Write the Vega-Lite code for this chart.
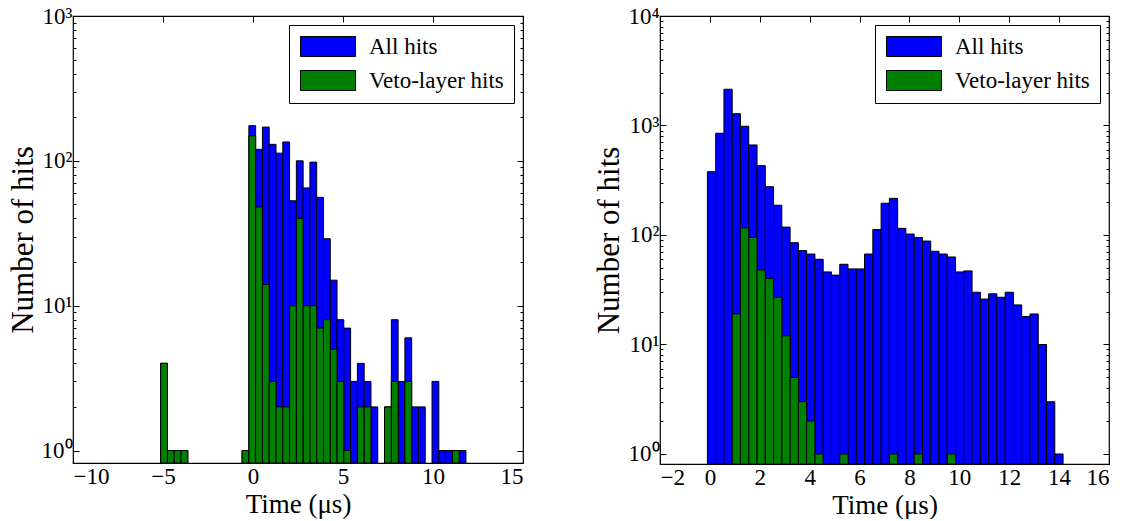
{
  "$schema": "https://vega.github.io/schema/vega-lite/v6.json",
  "background": "white",
  "padding": {"left": 6, "top": 4, "right": 5, "bottom": 0},
  "spacing": 68,
  "config": {
    "view": {"stroke": "black", "strokeWidth": 1.2},
    "font": "Liberation Serif",
    "axis": {
      "labelFont": "Liberation Serif",
      "labelFontSize": 23,
      "labelColor": "black",
      "titleFont": "Liberation Serif",
      "titleFontSize": 27,
      "titleFontWeight": "normal",
      "titleColor": "black",
      "domain": false,
      "grid": false,
      "tickColor": "black",
      "tickWidth": 1
    },
    "legend": {
      "orient": "top-right",
      "offset": 9,
      "strokeColor": "black",
      "fillColor": "white",
      "padding": 10,
      "cornerRadius": 0,
      "symbolType": "M-1,-1H4.5V1H-1Z",
      "symbolSize": 400,
      "symbolStrokeColor": "black",
      "symbolStrokeWidth": 1,
      "symbolOpacity": 1,
      "labelFont": "Liberation Serif",
      "labelFontSize": 23,
      "labelColor": "black",
      "labelOffset": 47,
      "labelLimit": 300,
      "rowPadding": 9
    }
  },
  "datasets": {
    "left": [
      {"series": "All hits", "t0": -5.130, "t1": -4.753, "n": 4},
      {"series": "All hits", "t0": -4.753, "t1": -4.376, "n": 1},
      {"series": "All hits", "t0": -4.376, "t1": -3.999, "n": 1},
      {"series": "All hits", "t0": -3.999, "t1": -3.622, "n": 1},
      {"series": "All hits", "t0": -0.607, "t1": -0.230, "n": 1},
      {"series": "All hits", "t0": -0.230, "t1": 0.147, "n": 175},
      {"series": "All hits", "t0": 0.147, "t1": 0.524, "n": 120},
      {"series": "All hits", "t0": 0.524, "t1": 0.900, "n": 171},
      {"series": "All hits", "t0": 0.900, "t1": 1.277, "n": 130},
      {"series": "All hits", "t0": 1.277, "t1": 1.654, "n": 113},
      {"series": "All hits", "t0": 1.654, "t1": 2.031, "n": 135},
      {"series": "All hits", "t0": 2.031, "t1": 2.408, "n": 53},
      {"series": "All hits", "t0": 2.408, "t1": 2.785, "n": 100},
      {"series": "All hits", "t0": 2.785, "t1": 3.162, "n": 65},
      {"series": "All hits", "t0": 3.162, "t1": 3.539, "n": 98},
      {"series": "All hits", "t0": 3.539, "t1": 3.916, "n": 56},
      {"series": "All hits", "t0": 3.916, "t1": 4.293, "n": 29},
      {"series": "All hits", "t0": 4.293, "t1": 4.669, "n": 15},
      {"series": "All hits", "t0": 4.669, "t1": 5.046, "n": 8},
      {"series": "All hits", "t0": 5.046, "t1": 5.423, "n": 7},
      {"series": "All hits", "t0": 5.423, "t1": 5.800, "n": 3},
      {"series": "All hits", "t0": 5.800, "t1": 6.177, "n": 4},
      {"series": "All hits", "t0": 6.177, "t1": 6.554, "n": 3},
      {"series": "All hits", "t0": 6.554, "t1": 6.931, "n": 2},
      {"series": "All hits", "t0": 7.308, "t1": 7.685, "n": 2},
      {"series": "All hits", "t0": 7.685, "t1": 8.062, "n": 8},
      {"series": "All hits", "t0": 8.062, "t1": 8.438, "n": 3},
      {"series": "All hits", "t0": 8.438, "t1": 8.815, "n": 6},
      {"series": "All hits", "t0": 8.815, "t1": 9.192, "n": 2},
      {"series": "All hits", "t0": 9.192, "t1": 9.569, "n": 2},
      {"series": "All hits", "t0": 9.946, "t1": 10.323, "n": 3},
      {"series": "All hits", "t0": 10.323, "t1": 10.700, "n": 1},
      {"series": "All hits", "t0": 10.700, "t1": 11.077, "n": 1},
      {"series": "All hits", "t0": 11.077, "t1": 11.454, "n": 1},
      {"series": "All hits", "t0": 11.454, "t1": 11.831, "n": 1},
      {"series": "Veto-layer hits", "t0": -5.130, "t1": -4.753, "n": 4},
      {"series": "Veto-layer hits", "t0": -4.753, "t1": -4.376, "n": 1},
      {"series": "Veto-layer hits", "t0": -4.376, "t1": -3.999, "n": 1},
      {"series": "Veto-layer hits", "t0": -3.999, "t1": -3.622, "n": 1},
      {"series": "Veto-layer hits", "t0": -0.607, "t1": -0.230, "n": 1},
      {"series": "Veto-layer hits", "t0": -0.230, "t1": 0.147, "n": 149},
      {"series": "Veto-layer hits", "t0": 0.147, "t1": 0.524, "n": 48},
      {"series": "Veto-layer hits", "t0": 0.524, "t1": 0.900, "n": 14},
      {"series": "Veto-layer hits", "t0": 0.900, "t1": 1.277, "n": 3},
      {"series": "Veto-layer hits", "t0": 1.277, "t1": 1.654, "n": 2},
      {"series": "Veto-layer hits", "t0": 1.654, "t1": 2.031, "n": 2},
      {"series": "Veto-layer hits", "t0": 2.031, "t1": 2.408, "n": 10},
      {"series": "Veto-layer hits", "t0": 2.408, "t1": 2.785, "n": 40},
      {"series": "Veto-layer hits", "t0": 2.785, "t1": 3.162, "n": 10},
      {"series": "Veto-layer hits", "t0": 3.162, "t1": 3.539, "n": 10},
      {"series": "Veto-layer hits", "t0": 3.539, "t1": 3.916, "n": 7},
      {"series": "Veto-layer hits", "t0": 3.916, "t1": 4.293, "n": 8},
      {"series": "Veto-layer hits", "t0": 4.293, "t1": 4.669, "n": 5},
      {"series": "Veto-layer hits", "t0": 4.669, "t1": 5.046, "n": 3},
      {"series": "Veto-layer hits", "t0": 5.046, "t1": 5.423, "n": 1},
      {"series": "Veto-layer hits", "t0": 5.800, "t1": 6.177, "n": 2},
      {"series": "Veto-layer hits", "t0": 6.177, "t1": 6.554, "n": 2},
      {"series": "Veto-layer hits", "t0": 7.308, "t1": 7.685, "n": 2},
      {"series": "Veto-layer hits", "t0": 7.685, "t1": 8.062, "n": 3},
      {"series": "Veto-layer hits", "t0": 8.438, "t1": 8.815, "n": 3},
      {"series": "Veto-layer hits", "t0": 11.077, "t1": 11.454, "n": 1}
    ],
    "right": [
      {"series": "All hits", "t0": -0.100, "t1": 0.232, "n": 378},
      {"series": "All hits", "t0": 0.232, "t1": 0.563, "n": 849},
      {"series": "All hits", "t0": 0.563, "t1": 0.895, "n": 2143},
      {"series": "All hits", "t0": 0.895, "t1": 1.226, "n": 1282},
      {"series": "All hits", "t0": 1.226, "t1": 1.558, "n": 984},
      {"series": "All hits", "t0": 1.558, "t1": 1.890, "n": 664},
      {"series": "All hits", "t0": 1.890, "t1": 2.221, "n": 430},
      {"series": "All hits", "t0": 2.221, "t1": 2.553, "n": 276},
      {"series": "All hits", "t0": 2.553, "t1": 2.884, "n": 187},
      {"series": "All hits", "t0": 2.884, "t1": 3.216, "n": 118},
      {"series": "All hits", "t0": 3.216, "t1": 3.548, "n": 85},
      {"series": "All hits", "t0": 3.548, "t1": 3.879, "n": 72},
      {"series": "All hits", "t0": 3.879, "t1": 4.211, "n": 67},
      {"series": "All hits", "t0": 4.211, "t1": 4.542, "n": 60},
      {"series": "All hits", "t0": 4.542, "t1": 4.874, "n": 46},
      {"series": "All hits", "t0": 4.874, "t1": 5.206, "n": 43},
      {"series": "All hits", "t0": 5.206, "t1": 5.537, "n": 54},
      {"series": "All hits", "t0": 5.537, "t1": 5.869, "n": 49},
      {"series": "All hits", "t0": 5.869, "t1": 6.200, "n": 49},
      {"series": "All hits", "t0": 6.200, "t1": 6.532, "n": 67},
      {"series": "All hits", "t0": 6.532, "t1": 6.864, "n": 112},
      {"series": "All hits", "t0": 6.864, "t1": 7.195, "n": 195},
      {"series": "All hits", "t0": 7.195, "t1": 7.527, "n": 216},
      {"series": "All hits", "t0": 7.527, "t1": 7.858, "n": 115},
      {"series": "All hits", "t0": 7.858, "t1": 8.190, "n": 102},
      {"series": "All hits", "t0": 8.190, "t1": 8.522, "n": 95},
      {"series": "All hits", "t0": 8.522, "t1": 8.853, "n": 88},
      {"series": "All hits", "t0": 8.853, "t1": 9.185, "n": 71},
      {"series": "All hits", "t0": 9.185, "t1": 9.516, "n": 67},
      {"series": "All hits", "t0": 9.516, "t1": 9.848, "n": 63},
      {"series": "All hits", "t0": 9.848, "t1": 10.180, "n": 46},
      {"series": "All hits", "t0": 10.180, "t1": 10.511, "n": 47},
      {"series": "All hits", "t0": 10.511, "t1": 10.843, "n": 30},
      {"series": "All hits", "t0": 10.843, "t1": 11.174, "n": 26},
      {"series": "All hits", "t0": 11.174, "t1": 11.506, "n": 29},
      {"series": "All hits", "t0": 11.506, "t1": 11.838, "n": 27},
      {"series": "All hits", "t0": 11.838, "t1": 12.169, "n": 30},
      {"series": "All hits", "t0": 12.169, "t1": 12.501, "n": 23},
      {"series": "All hits", "t0": 12.501, "t1": 12.832, "n": 18},
      {"series": "All hits", "t0": 12.832, "t1": 13.164, "n": 19},
      {"series": "All hits", "t0": 13.164, "t1": 13.496, "n": 10},
      {"series": "All hits", "t0": 13.496, "t1": 13.827, "n": 3},
      {"series": "All hits", "t0": 13.827, "t1": 14.159, "n": 1},
      {"series": "Veto-layer hits", "t0": 0.895, "t1": 1.226, "n": 19},
      {"series": "Veto-layer hits", "t0": 1.226, "t1": 1.558, "n": 116},
      {"series": "Veto-layer hits", "t0": 1.558, "t1": 1.890, "n": 95},
      {"series": "Veto-layer hits", "t0": 1.890, "t1": 2.221, "n": 48},
      {"series": "Veto-layer hits", "t0": 2.221, "t1": 2.553, "n": 40},
      {"series": "Veto-layer hits", "t0": 2.553, "t1": 2.884, "n": 27},
      {"series": "Veto-layer hits", "t0": 2.884, "t1": 3.216, "n": 12},
      {"series": "Veto-layer hits", "t0": 3.216, "t1": 3.548, "n": 5},
      {"series": "Veto-layer hits", "t0": 3.548, "t1": 3.879, "n": 3},
      {"series": "Veto-layer hits", "t0": 3.879, "t1": 4.211, "n": 2},
      {"series": "Veto-layer hits", "t0": 4.211, "t1": 4.542, "n": 1},
      {"series": "Veto-layer hits", "t0": 5.206, "t1": 5.537, "n": 1},
      {"series": "Veto-layer hits", "t0": 7.195, "t1": 7.527, "n": 1},
      {"series": "Veto-layer hits", "t0": 8.190, "t1": 8.522, "n": 1},
      {"series": "Veto-layer hits", "t0": 9.516, "t1": 9.848, "n": 1}
    ]
  },
  "resolve": {"scale": {"color": "independent"}, "legend": {"color": "independent"}},
  "hconcat": [
    {
      "width": 450,
      "height": 447,
      "data": {"name": "left"},
      "resolve": {"axis": {"x": "independent", "y": "independent"}},
      "layer": [
        {
          "mark": {"type": "bar", "stroke": "black", "strokeWidth": 1, "opacity": 1},
          "encoding": {
            "x": {"field": "t0", "type": "quantitative",
                  "scale": {"domain": [-10, 15], "nice": false, "zero": false},
                  "axis": {"orient": "bottom", "values": [-10, -5, 0, 5, 10, 15], "title": "Time (μs)", "tickSize": -6, "labelPadding": 8, "titlePadding": 3}},
            "x2": {"field": "t1"},
            "y": {"field": "n", "type": "quantitative", "stack": null,
                  "scale": {"type": "log", "domain": [0.82, 1000], "nice": false},
                  "axis": {"orient": "left", "values": [1, 10, 100, 1000], "title": "Number of hits", "titleFontSize": 31, "tickSize": -6, "labelPadding": 7, "titlePadding": 2,
                           "labelExpr": "'10' + ['⁰','¹','²','³','⁴'][round(log(datum.value)/LN10)]"}},
            "y2": {"datum": 0.82},
            "color": {"field": "series", "type": "nominal",
                      "scale": {"domain": ["All hits", "Veto-layer hits"], "range": ["#0000ff", "#008000"]},
                      "legend": {"title": null}}
          }
        },
        {
          "mark": {"type": "point", "opacity": 0},
          "encoding": {
            "x": {"field": "t0", "type": "quantitative", "scale": {"domain": [-10, 15], "nice": false, "zero": false},
                  "axis": {"orient": "top", "values": [-10, -5, 0, 5, 10, 15], "labels": false, "title": null, "tickSize": -6}},
            "y": {"field": "n", "type": "quantitative", "scale": {"type": "log", "domain": [0.82, 1000], "nice": false},
                  "axis": {"orient": "right", "values": [1, 10, 100, 1000], "labels": false, "title": null, "tickSize": -6}}
          }
        },
        {
          "mark": {"type": "point", "opacity": 0},
          "encoding": {
            "x": {"field": "t0", "type": "quantitative", "scale": {"domain": [-10, 15], "nice": false, "zero": false}, "axis": null},
            "y": {"field": "n", "type": "quantitative", "scale": {"type": "log", "domain": [0.82, 1000], "nice": false},
                  "axis": {"orient": "left", "values": [2, 3, 4, 5, 6, 7, 8, 9, 20, 30, 40, 50, 60, 70, 80, 90, 200, 300, 400, 500, 600, 700, 800, 900], "labels": false, "title": null, "tickSize": -3}}
          }
        },
        {
          "mark": {"type": "point", "opacity": 0},
          "encoding": {
            "x": {"field": "t0", "type": "quantitative", "scale": {"domain": [-10, 15], "nice": false, "zero": false}, "axis": null},
            "y": {"field": "n", "type": "quantitative", "scale": {"type": "log", "domain": [0.82, 1000], "nice": false},
                  "axis": {"orient": "right", "values": [2, 3, 4, 5, 6, 7, 8, 9, 20, 30, 40, 50, 60, 70, 80, 90, 200, 300, 400, 500, 600, 700, 800, 900], "labels": false, "title": null, "tickSize": -3}}
          }
        }
      ]
    },
    {
      "width": 449,
      "height": 448,
      "data": {"name": "right"},
      "resolve": {"axis": {"x": "independent", "y": "independent"}},
      "layer": [
        {
          "mark": {"type": "bar", "stroke": "black", "strokeWidth": 1, "opacity": 1},
          "encoding": {
            "x": {"field": "t0", "type": "quantitative",
                  "scale": {"domain": [-2, 16], "nice": false, "zero": false},
                  "axis": {"orient": "bottom", "values": [-2, 0, 2, 4, 6, 8, 10, 12, 14, 16], "title": "Time (μs)", "tickSize": -6, "labelPadding": 8, "titlePadding": 3}},
            "x2": {"field": "t1"},
            "y": {"field": "n", "type": "quantitative", "stack": null,
                  "scale": {"type": "log", "domain": [0.81, 10000], "nice": false},
                  "axis": {"orient": "left", "values": [1, 10, 100, 1000, 10000], "title": "Number of hits", "titleFontSize": 31, "tickSize": -6, "labelPadding": 7, "titlePadding": 2,
                           "labelExpr": "'10' + ['⁰','¹','²','³','⁴'][round(log(datum.value)/LN10)]"}},
            "y2": {"datum": 0.81},
            "color": {"field": "series", "type": "nominal",
                      "scale": {"domain": ["All hits", "Veto-layer hits"], "range": ["#0000ff", "#008000"]},
                      "legend": {"title": null}}
          }
        },
        {
          "mark": {"type": "point", "opacity": 0},
          "encoding": {
            "x": {"field": "t0", "type": "quantitative", "scale": {"domain": [-2, 16], "nice": false, "zero": false},
                  "axis": {"orient": "top", "values": [-2, 0, 2, 4, 6, 8, 10, 12, 14, 16], "labels": false, "title": null, "tickSize": -6}},
            "y": {"field": "n", "type": "quantitative", "scale": {"type": "log", "domain": [0.81, 10000], "nice": false},
                  "axis": {"orient": "right", "values": [1, 10, 100, 1000, 10000], "labels": false, "title": null, "tickSize": -6}}
          }
        },
        {
          "mark": {"type": "point", "opacity": 0},
          "encoding": {
            "x": {"field": "t0", "type": "quantitative", "scale": {"domain": [-2, 16], "nice": false, "zero": false}, "axis": null},
            "y": {"field": "n", "type": "quantitative", "scale": {"type": "log", "domain": [0.81, 10000], "nice": false},
                  "axis": {"orient": "left", "values": [2, 3, 4, 5, 6, 7, 8, 9, 20, 30, 40, 50, 60, 70, 80, 90, 200, 300, 400, 500, 600, 700, 800, 900, 2000, 3000, 4000, 5000, 6000, 7000, 8000, 9000], "labels": false, "title": null, "tickSize": -3}}
          }
        },
        {
          "mark": {"type": "point", "opacity": 0},
          "encoding": {
            "x": {"field": "t0", "type": "quantitative", "scale": {"domain": [-2, 16], "nice": false, "zero": false}, "axis": null},
            "y": {"field": "n", "type": "quantitative", "scale": {"type": "log", "domain": [0.81, 10000], "nice": false},
                  "axis": {"orient": "right", "values": [2, 3, 4, 5, 6, 7, 8, 9, 20, 30, 40, 50, 60, 70, 80, 90, 200, 300, 400, 500, 600, 700, 800, 900, 2000, 3000, 4000, 5000, 6000, 7000, 8000, 9000], "labels": false, "title": null, "tickSize": -3}}
          }
        }
      ]
    }
  ]
}
